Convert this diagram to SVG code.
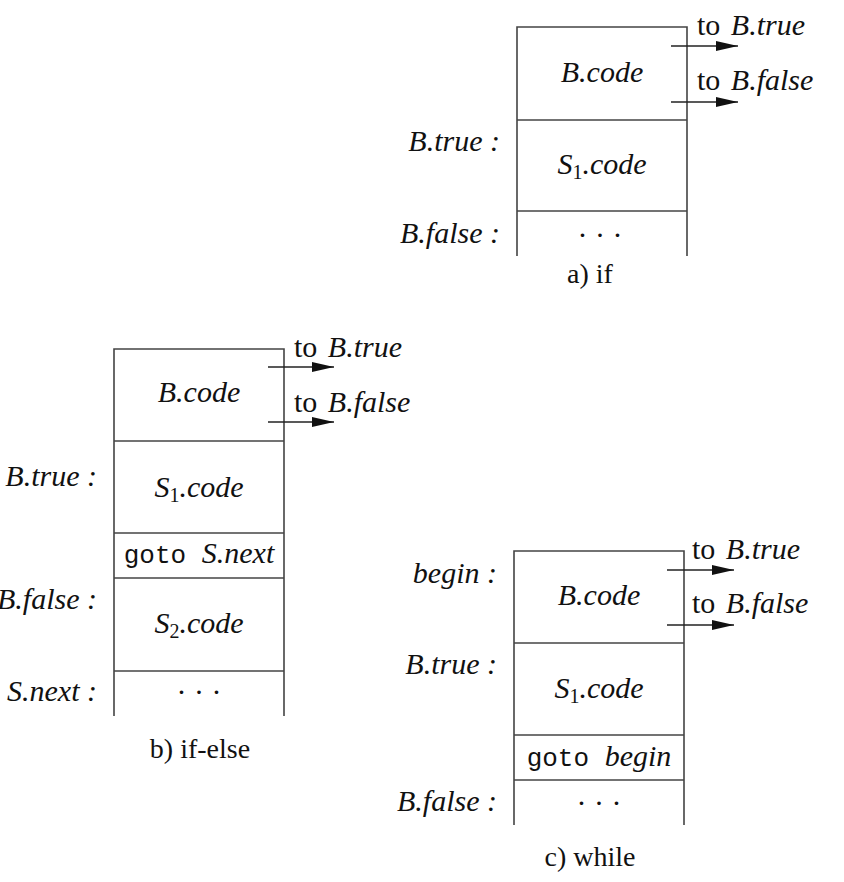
<svg xmlns="http://www.w3.org/2000/svg" width="844" height="882" viewBox="0 0 844 882">
<defs>
<style>
.ln{stroke:#444;stroke-width:1.6;fill:none}
.m{font-family:"Liberation Serif",serif;font-style:italic;font-size:30px;fill:#111}
.r{font-family:"Liberation Serif",serif;font-size:30px;fill:#111}
.tt{font-family:"Liberation Mono",monospace;font-size:26px;fill:#111}
.cap{font-family:"Liberation Serif",serif;font-size:28px;fill:#111}
.sub{font-size:20px;font-style:normal}
.ar{stroke:#222;stroke-width:1.6;fill:none}
</style>
<marker id="ah" viewBox="0 0 22 12" refX="22" refY="6" markerWidth="22" markerHeight="12" markerUnits="userSpaceOnUse" orient="auto">
<path d="M0,1 L22,6 L0,11 Z" fill="#111"/>
</marker>
</defs>
<rect width="844" height="882" fill="#fff"/>

<!-- a) if -->
<g id="if">
<g id="if-bcode">
<path class="ln" d="M517,256 V27 H687 V256"/>
<text class="m" x="602" y="82" text-anchor="middle">B.code</text>
</g>
<g id="if-s1">
<path class="ln" d="M517,120 H687"/>
<text class="m" x="500" y="151" text-anchor="end">B.true :</text>
<text class="m" x="602" y="174" text-anchor="middle">S<tspan class="sub" dy="5">1</tspan><tspan dy="-5">.code</tspan></text>
</g>
<g id="if-next">
<path class="ln" d="M517,211 H687"/>
<text class="m" x="500" y="243" text-anchor="end">B.false :</text>
<text class="r" x="600" y="245" text-anchor="middle">· · ·</text>
</g>
<text class="r" x="697" y="35">to <tspan class="m" dx="3">B.true</tspan></text>
<text class="r" x="697" y="90">to <tspan class="m" dx="3">B.false</tspan></text>
<text class="cap" x="590" y="283" text-anchor="middle">a)  if</text>
</g>

<!-- b) if-else -->
<g id="ifelse">
<g id="ie-bcode">
<path class="ln" d="M114,716 V349 H284 V716"/>
<text class="m" x="199" y="402" text-anchor="middle">B.code</text>
</g>
<g id="ie-s1">
<path class="ln" d="M114,441 H284"/>
<text class="m" x="97" y="486" text-anchor="end">B.true :</text>
<text class="m" x="199" y="497" text-anchor="middle">S<tspan class="sub" dy="5">1</tspan><tspan dy="-5">.code</tspan></text>
</g>
<g id="ie-goto">
<path class="ln" d="M114,533 H284"/>
<text x="199" y="563" text-anchor="middle"><tspan class="tt">goto </tspan><tspan class="m">S.next</tspan></text>
</g>
<g id="ie-s2">
<path class="ln" d="M114,578 H284"/>
<text class="m" x="97" y="609" text-anchor="end">B.false :</text>
<text class="m" x="199" y="633" text-anchor="middle">S<tspan class="sub" dy="5">2</tspan><tspan dy="-5">.code</tspan></text>
</g>
<g id="ie-next">
<path class="ln" d="M114,671 H284"/>
<text class="m" x="97" y="701" text-anchor="end">S.next :</text>
<text class="r" x="199" y="702" text-anchor="middle">· · ·</text>
</g>
<text class="r" x="294" y="357">to <tspan class="m" dx="3">B.true</tspan></text>
<text class="r" x="294" y="412">to <tspan class="m" dx="3">B.false</tspan></text>
<text class="cap" x="200" y="758" text-anchor="middle">b)  if-else</text>
</g>

<!-- c) while -->
<g id="while">
<g id="wh-bcode">
<path class="ln" d="M514,825 V551 H684 V825"/>
<text class="m" x="497" y="583" text-anchor="end">begin :</text>
<text class="m" x="599" y="605" text-anchor="middle">B.code</text>
</g>
<g id="wh-s1">
<path class="ln" d="M514,643 H684"/>
<text class="m" x="497" y="674" text-anchor="end">B.true :</text>
<text class="m" x="599" y="698" text-anchor="middle">S<tspan class="sub" dy="5">1</tspan><tspan dy="-5">.code</tspan></text>
</g>
<g id="wh-goto">
<path class="ln" d="M514,735 H684"/>
<text x="599" y="766" text-anchor="middle"><tspan class="tt">goto </tspan><tspan class="m">begin</tspan></text>
</g>
<g id="wh-next">
<path class="ln" d="M514,780 H684"/>
<text class="m" x="497" y="811" text-anchor="end">B.false :</text>
<text class="r" x="599" y="813" text-anchor="middle">· · ·</text>
</g>
<text class="r" x="692" y="559">to <tspan class="m" dx="3">B.true</tspan></text>
<text class="r" x="692" y="613">to <tspan class="m" dx="3">B.false</tspan></text>
<text class="cap" x="590" y="866" text-anchor="middle">c) while</text>
</g>

<g id="connectors">
<path class="ar" marker-end="url(#ah)" d="M671,46 H738"/>
<path class="ar" marker-end="url(#ah)" d="M671,102 H738"/>
<path class="ar" marker-end="url(#ah)" d="M268,367 H334"/>
<path class="ar" marker-end="url(#ah)" d="M268,422 H334"/>
<path class="ar" marker-end="url(#ah)" d="M667,570 H734"/>
<path class="ar" marker-end="url(#ah)" d="M667,625 H734"/>
</g>
</svg>
